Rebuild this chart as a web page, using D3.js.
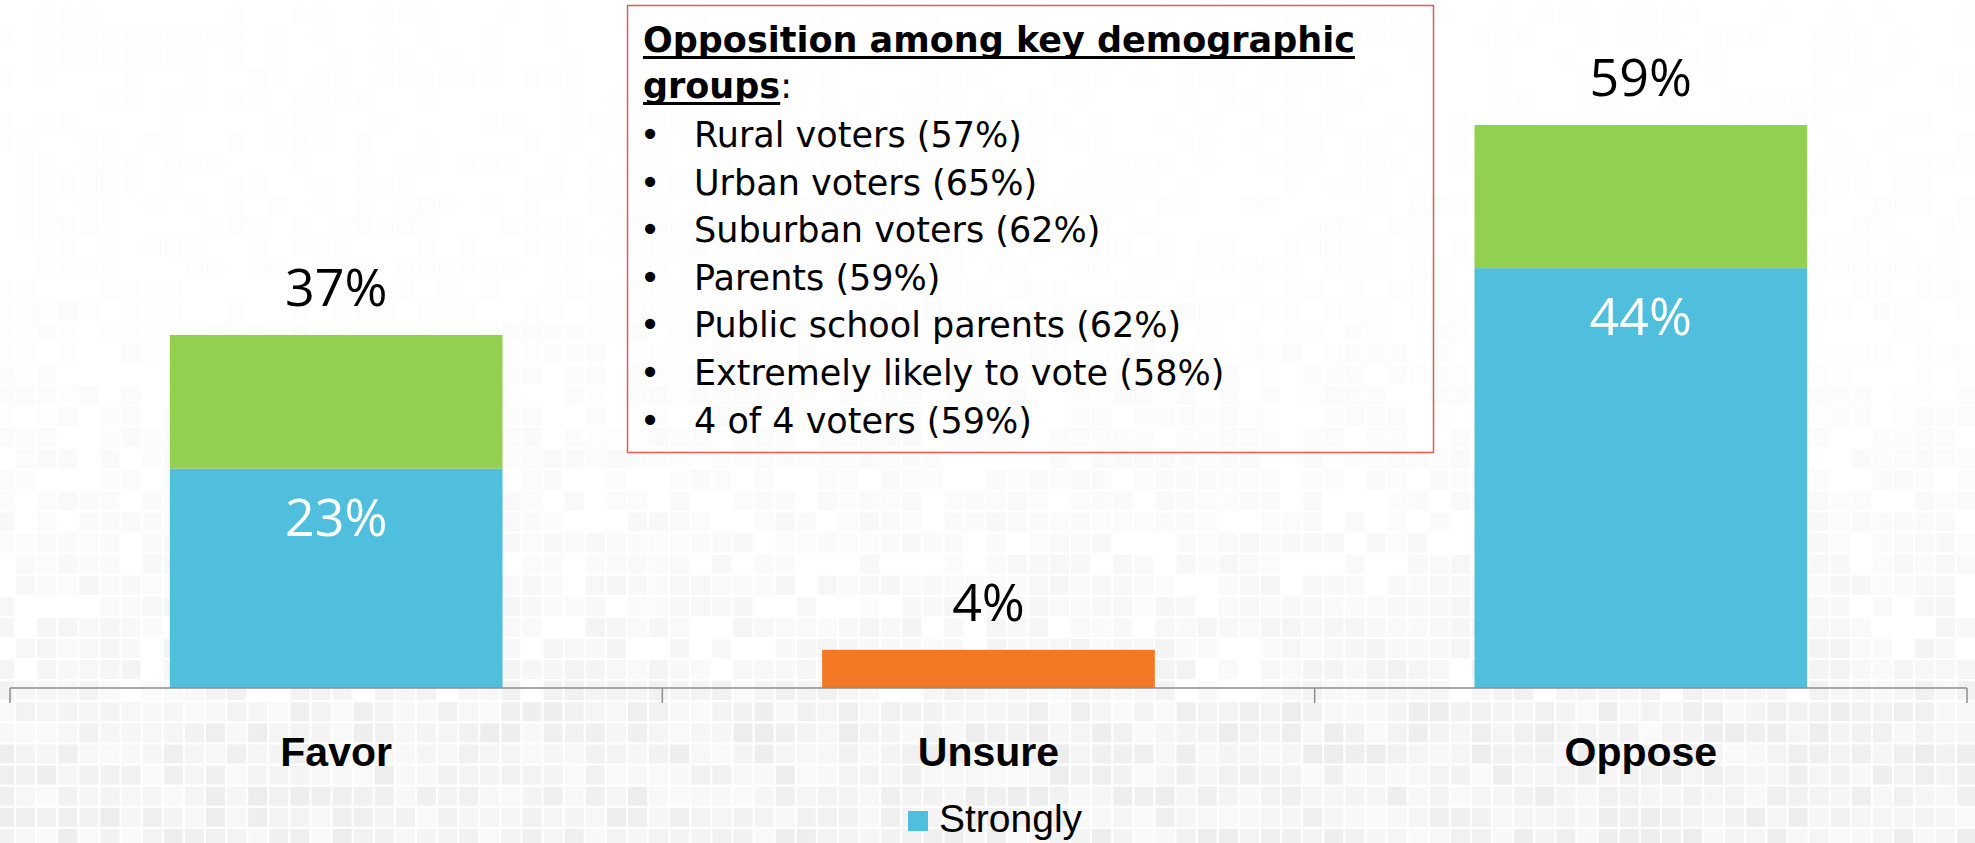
<!DOCTYPE html>
<html>
<head>
<meta charset="utf-8">
<script src="https://d3js.org/d3.v7.min.js"></script>
<style>
  html, body { margin: 0; padding: 0; background: #ffffff; }
  svg { display: block; }
</style>
</head>
<body>
<div class="chart"></div>
<script>
// data
var categories = ["Favor", "Unsure", "Oppose"];
var strongly   = [23, 0, 44];
var somewhat   = [14, 0, 15];
var unsure     = [0, 4, 0];
var totals     = [37, 4, 59];
var innerLabels = [23, null, 44];

var noteTitle1 = "Opposition among key demographic";
var noteTitle2 = "groups";
var groupNames = ["Rural voters", "Urban voters", "Suburban voters", "Parents",
                  "Public school parents", "Extremely likely to vote", "4 of 4 voters"];
var groupPcts  = [57, 65, 62, 59, 62, 58, 59];

var legendNames = ["Strongly"];

var w = 1975, h = 843;
var base = 688;   // axis line
var blue = "#50bedd", green = "#92d050", orange = "#f47723";

var svg = d3.select("div.chart").append("svg")
  .attr("width", w).attr("height", h);

// faint pixel mosaic background (decoration only)
function hash(i, j) {
  var s = Math.sin(i * 127.1 + j * 311.7) * 43758.5453;
  return s - Math.floor(s);
}
var bg = svg.append("g");
var step = 21.1, cell = 19;
for (var j = 0; j * step < h; j++) {
  var cy = 6 + j * step;
  var t = Math.min(1, cy / base);
  var d = cy > base ? 18 : 1.5 + 13 * t * t * t;
  var skip = cy > base ? 0 : 0.55 - 0.4 * t;
  for (var i = 0; i * step < w + step; i++) {
    var cx = -5 + i * step;
    var r = hash(i, j);
    if (r < skip) continue;
    var g = Math.round(255 - d * (0.3 + 0.7 * r));
    bg.append("rect").attr("x", cx).attr("y", cy)
      .attr("width", cell).attr("height", cell)
      .attr("fill", "rgb(" + g + "," + g + "," + g + ")");
  }
}

// scales
var xBand = d3.scaleBand().domain(categories).range([10, 1967]).padding(0);
var xBar = d3.scaleBand().domain(categories).range([10, 1967])
  .paddingInner(0.49).paddingOuter(0.245);
var y = d3.scaleLinear().domain([0, 59]).range([base, 125]);

// stacked bars
var stack = categories.map(function(c, i) {
  return [
    {cat: c, y0: 0, y1: strongly[i], color: blue},
    {cat: c, y0: strongly[i], y1: strongly[i] + somewhat[i], color: green},
    {cat: c, y0: 0, y1: unsure[i], color: orange}
  ];
});
var segs = [].concat.apply([], stack).filter(function(s) { return s.y1 > s.y0; });

svg.append("g").selectAll("rect")
  .data(segs).enter().append("rect")
  .attr("x", function(d) { return xBar(d.cat); })
  .attr("width", xBar.bandwidth())
  .attr("y", function(d) { return y(d.y1); })
  .attr("height", function(d) { return y(d.y0) - y(d.y1); })
  .attr("fill", function(d) { return d.color; });

// axis
var axis = svg.append("g").attr("stroke", "#8c8c8c").attr("stroke-width", 1.5);
axis.append("line").attr("x1", xBand.range()[0]).attr("x2", xBand.range()[1])
  .attr("y1", base).attr("y2", base);
var tickX = categories.map(function(c) { return xBand(c); }).concat([xBand.range()[1]]);
axis.selectAll("line.tick").data(tickX).enter().append("line")
  .attr("class", "tick")
  .attr("x1", function(d) { return d; }).attr("x2", function(d) { return d; })
  .attr("y1", base).attr("y2", base + 15);

// category labels
svg.append("g").selectAll("text")
  .data(categories).enter().append("text")
  .attr("x", function(d) { return xBand(d) + xBand.bandwidth() / 2; })
  .attr("y", 766)
  .attr("text-anchor", "middle")
  .attr("font-family", "'Liberation Sans', Arial, sans-serif")
  .attr("font-weight", "bold")
  .attr("font-size", "41px")
  .attr("fill", "#000")
  .text(function(d) { return d; });

// total labels above bars
svg.append("g").selectAll("text")
  .data(totals).enter().append("text")
  .attr("x", function(d, i) { return xBar(categories[i]) + xBar.bandwidth() / 2; })
  .attr("y", function(d) { return y(d) - 29; })
  .attr("text-anchor", "middle")
  .attr("font-family", "'Open Sans', sans-serif")
  .attr("font-size", "52px")
  .attr("fill", "#000")
  .text(function(d) { return d + "%"; });

// labels inside the blue segment
svg.append("g").selectAll("text")
  .data(innerLabels).enter().filter(function(d) { return d !== null; })
  .append("text")
  .attr("x", function(d) { return xBar(categories[innerLabels.indexOf(d)]) + xBar.bandwidth() / 2; })
  .attr("y", function(d) { return y(d) + 67; })
  .attr("text-anchor", "middle")
  .attr("font-family", "'Open Sans', sans-serif")
  .attr("font-size", "52px")
  .attr("fill", "#fff")
  .text(function(d) { return d + "%"; });

// note box
svg.append("rect").attr("x", 627.5).attr("y", 5.5).attr("width", 806).attr("height", 447)
  .attr("fill", "none").attr("stroke", "#e35a5a").attr("stroke-width", 1.5);

var note = svg.append("g")
  .attr("font-family", "'DejaVu Sans', Verdana, sans-serif")
  .attr("font-size", "35px")
  .attr("fill", "#000");

var t1 = note.append("text").attr("x", 643).attr("y", 52)
  .attr("font-weight", "bold")
  .text(noteTitle1);
var t2 = note.append("text").attr("x", 643).attr("y", 98);
var t2a = t2.append("tspan").attr("font-weight", "bold").text(noteTitle2);
t2.append("tspan").text(":");

// thick underlines like the slide
[[t1, 52], [t2a, 98]].forEach(function(p) {
  var len = p[0].node().getComputedTextLength();
  note.append("rect").attr("x", 643).attr("y", p[1] + 4)
    .attr("width", len).attr("height", 3).attr("fill", "#000");
});

var items = note.selectAll("g.item").data(groupNames).enter().append("g").attr("class", "item");
items.append("text").attr("x", 650).attr("text-anchor", "middle")
  .attr("y", function(d, i) { return 147 + i * 47.6; })
  .text("\u2022");
items.append("text").attr("x", 694)
  .attr("y", function(d, i) { return 147 + i * 47.6; })
  .text(function(d, i) { return d + " (" + groupPcts[i] + "%)"; });

// legend
var leg = svg.append("g");
leg.append("rect").attr("x", 908).attr("y", 811).attr("width", 20).attr("height", 20).attr("fill", blue);
leg.append("text").attr("x", 939).attr("y", 832)
  .attr("font-family", "'Liberation Sans', Arial, sans-serif")
  .attr("font-size", "39px").attr("fill", "#000")
  .text(legendNames[0]);
</script>
</body>
</html>
